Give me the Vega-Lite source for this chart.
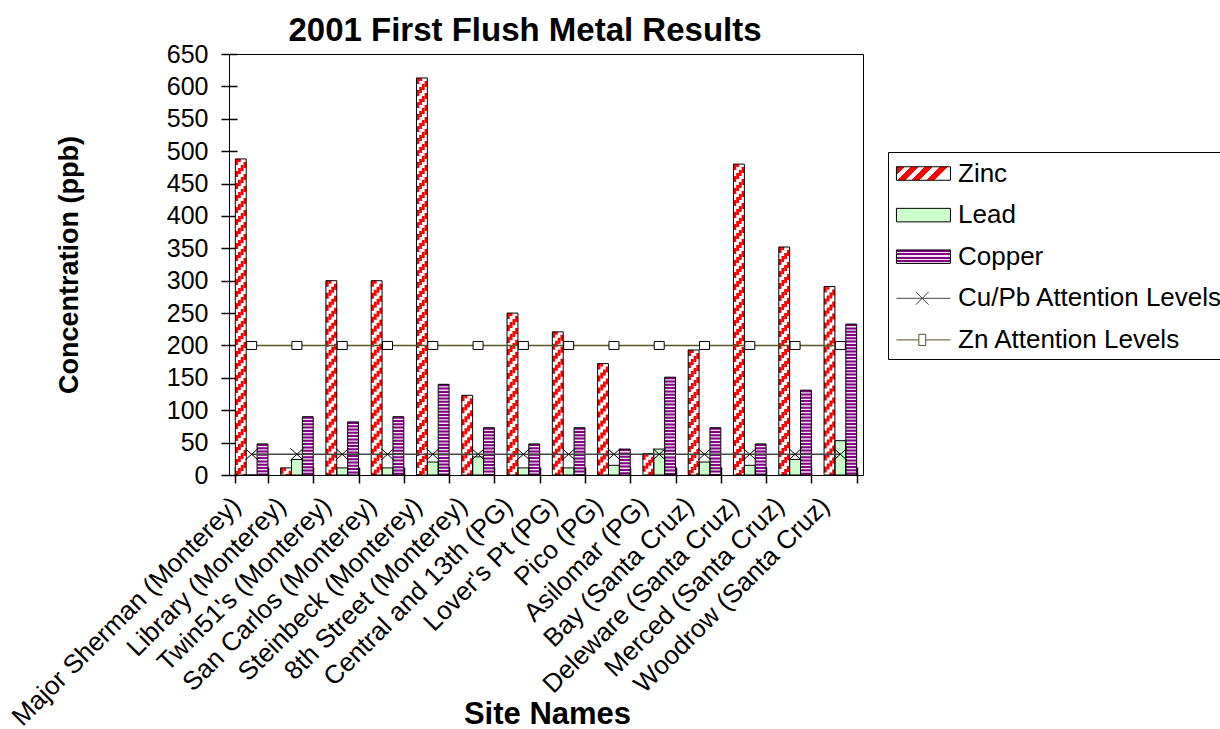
{
  "$schema": "https://vega.github.io/schema/vega-lite/v6.json",
  "width": 634,
  "height": 421,
  "autosize": {"type": "none"},
  "padding": {"left": 229, "top": 54, "right": 357, "bottom": 254},
  "background": "white",
  "config": {"view": {"stroke": "#000", "strokeWidth": 1}, "font": "Liberation Sans", "axis": {"labelOverlap": false}, "axisY": {"labelOverlap": false, "labelFlush": false}},
  "title": {"text": "2001 First Flush Metal Results", "fontSize": 33, "fontWeight": "bold", "font": "Liberation Sans", "color": "#000", "anchor": "middle", "dx": -21, "dy": 43, "offset": 11, "baseline": "alphabetic"},
  "datasets": {
    "metals": [
      {"site": "Major Sherman (Monterey)", "metal": "Zinc", "value": 488},
      {"site": "Major Sherman (Monterey)", "metal": "Lead", "value": 0},
      {"site": "Major Sherman (Monterey)", "metal": "Copper", "value": 48},
      {"site": "Library (Monterey)", "metal": "Zinc", "value": 11},
      {"site": "Library (Monterey)", "metal": "Lead", "value": 24},
      {"site": "Library (Monterey)", "metal": "Copper", "value": 90},
      {"site": "Twin51's (Monterey)", "metal": "Zinc", "value": 300},
      {"site": "Twin51's (Monterey)", "metal": "Lead", "value": 11},
      {"site": "Twin51's (Monterey)", "metal": "Copper", "value": 82},
      {"site": "San Carlos (Monterey)", "metal": "Zinc", "value": 300},
      {"site": "San Carlos (Monterey)", "metal": "Lead", "value": 11},
      {"site": "San Carlos (Monterey)", "metal": "Copper", "value": 90},
      {"site": "Steinbeck (Monterey)", "metal": "Zinc", "value": 613},
      {"site": "Steinbeck (Monterey)", "metal": "Lead", "value": 20},
      {"site": "Steinbeck (Monterey)", "metal": "Copper", "value": 140},
      {"site": "8th Street (Monterey)", "metal": "Zinc", "value": 123},
      {"site": "8th Street (Monterey)", "metal": "Lead", "value": 28},
      {"site": "8th Street (Monterey)", "metal": "Copper", "value": 73},
      {"site": "Central and 13th (PG)", "metal": "Zinc", "value": 250},
      {"site": "Central and 13th (PG)", "metal": "Lead", "value": 11},
      {"site": "Central and 13th (PG)", "metal": "Copper", "value": 48},
      {"site": "Lover's Pt (PG)", "metal": "Zinc", "value": 221},
      {"site": "Lover's Pt (PG)", "metal": "Lead", "value": 11},
      {"site": "Lover's Pt (PG)", "metal": "Copper", "value": 73},
      {"site": "Pico (PG)", "metal": "Zinc", "value": 172},
      {"site": "Pico (PG)", "metal": "Lead", "value": 15},
      {"site": "Pico (PG)", "metal": "Copper", "value": 40},
      {"site": "Asilomar (PG)", "metal": "Zinc", "value": 33},
      {"site": "Asilomar (PG)", "metal": "Lead", "value": 40},
      {"site": "Asilomar (PG)", "metal": "Copper", "value": 151},
      {"site": "Bay (Santa Cruz)", "metal": "Zinc", "value": 193},
      {"site": "Bay (Santa Cruz)", "metal": "Lead", "value": 20},
      {"site": "Bay (Santa Cruz)", "metal": "Copper", "value": 73},
      {"site": "Deleware (Santa Cruz)", "metal": "Zinc", "value": 480},
      {"site": "Deleware (Santa Cruz)", "metal": "Lead", "value": 15},
      {"site": "Deleware (Santa Cruz)", "metal": "Copper", "value": 48},
      {"site": "Merced (Santa Cruz)", "metal": "Zinc", "value": 352},
      {"site": "Merced (Santa Cruz)", "metal": "Lead", "value": 24},
      {"site": "Merced (Santa Cruz)", "metal": "Copper", "value": 131},
      {"site": "Woodrow (Santa Cruz)", "metal": "Zinc", "value": 291},
      {"site": "Woodrow (Santa Cruz)", "metal": "Lead", "value": 53},
      {"site": "Woodrow (Santa Cruz)", "metal": "Copper", "value": 233}
    ],
    "levels": [
      {"site": "Major Sherman (Monterey)", "level": "Cu/Pb Attention Levels", "value": 32},
      {"site": "Library (Monterey)", "level": "Cu/Pb Attention Levels", "value": 32},
      {"site": "Twin51's (Monterey)", "level": "Cu/Pb Attention Levels", "value": 32},
      {"site": "San Carlos (Monterey)", "level": "Cu/Pb Attention Levels", "value": 32},
      {"site": "Steinbeck (Monterey)", "level": "Cu/Pb Attention Levels", "value": 32},
      {"site": "8th Street (Monterey)", "level": "Cu/Pb Attention Levels", "value": 32},
      {"site": "Central and 13th (PG)", "level": "Cu/Pb Attention Levels", "value": 32},
      {"site": "Lover's Pt (PG)", "level": "Cu/Pb Attention Levels", "value": 32},
      {"site": "Pico (PG)", "level": "Cu/Pb Attention Levels", "value": 32},
      {"site": "Asilomar (PG)", "level": "Cu/Pb Attention Levels", "value": 32},
      {"site": "Bay (Santa Cruz)", "level": "Cu/Pb Attention Levels", "value": 32},
      {"site": "Deleware (Santa Cruz)", "level": "Cu/Pb Attention Levels", "value": 32},
      {"site": "Merced (Santa Cruz)", "level": "Cu/Pb Attention Levels", "value": 32},
      {"site": "Woodrow (Santa Cruz)", "level": "Cu/Pb Attention Levels", "value": 32},
      {"site": "Major Sherman (Monterey)", "level": "Zn Attention Levels", "value": 200},
      {"site": "Library (Monterey)", "level": "Zn Attention Levels", "value": 200},
      {"site": "Twin51's (Monterey)", "level": "Zn Attention Levels", "value": 200},
      {"site": "San Carlos (Monterey)", "level": "Zn Attention Levels", "value": 200},
      {"site": "Steinbeck (Monterey)", "level": "Zn Attention Levels", "value": 200},
      {"site": "8th Street (Monterey)", "level": "Zn Attention Levels", "value": 200},
      {"site": "Central and 13th (PG)", "level": "Zn Attention Levels", "value": 200},
      {"site": "Lover's Pt (PG)", "level": "Zn Attention Levels", "value": 200},
      {"site": "Pico (PG)", "level": "Zn Attention Levels", "value": 200},
      {"site": "Asilomar (PG)", "level": "Zn Attention Levels", "value": 200},
      {"site": "Bay (Santa Cruz)", "level": "Zn Attention Levels", "value": 200},
      {"site": "Deleware (Santa Cruz)", "level": "Zn Attention Levels", "value": 200},
      {"site": "Merced (Santa Cruz)", "level": "Zn Attention Levels", "value": 200},
      {"site": "Woodrow (Santa Cruz)", "level": "Zn Attention Levels", "value": 200}
    ]
  },
  "encoding": {
    "x": {
      "field": "site", "type": "nominal", "sort": null,
      "scale": {"paddingInner": 0.28, "paddingOuter": 0.14},
      "axis": {
        "title": "Site Names", "titleFontSize": 31, "titleFontWeight": "bold", "titleFont": "Liberation Sans", "titleColor": "#000",
        "titleBaseline": "alphabetic", "titleAlign": "center", "titleX": 318, "titleY": 256,
        "labelAngle": -45, "labelAlign": "right", "labelBaseline": "alphabetic", "labelFontSize": 26, "labelFont": "Liberation Sans",
        "labelColor": "#000", "labelPadding": 24, "labelOffset": -10, "labelLimit": 500, "labelOverlap": false, "labelBound": false,
        "tickBand": "extent", "tickSize": 16, "offset": -8, "domain": false, "tickColor": "#000", "tickWidth": 1.5
      }
    },
    "y": {
      "field": "value", "type": "quantitative",
      "scale": {"domain": [0, 650], "nice": false, "zero": true},
      "axis": {
        "title": "Concentration (ppb)", "titleFontSize": 27, "titleFontWeight": "bold", "titleFont": "Liberation Sans", "titleColor": "#000",
        "titleAngle": -90, "titleX": -168, "titleY": 210.5, "titleAlign": "center", "titleBaseline": "middle",
        "values": [0, 50, 100, 150, 200, 250, 300, 350, 400, 450, 500, 550, 600, 650],
        "labelFontSize": 25, "labelFont": "Liberation Sans", "labelColor": "#000", "labelPadding": 13, "labelOverlap": false, "labelFlush": false, "labelSeparation": 0,
        "tickSize": 16, "offset": -8, "domain": false, "grid": false, "tickColor": "#000", "tickWidth": 1.5
      }
    }
  },
  "layer": [
    {
      "data": {"name": "metals"},
      "mark": {"type": "bar", "strokeWidth": 0},
      "encoding": {
        "xOffset": {"field": "metal", "type": "nominal", "sort": ["Zinc", "Lead", "Copper"], "scale": {"domain": ["Zinc", "Lead", "Copper"], "paddingInner": 0, "paddingOuter": 0}},
        "fill": {
          "field": "metal", "type": "nominal",
          "scale": {"domain": ["Zinc", "Lead", "Copper"], "range": ["#ffffff", "#ccffcc", "#f2e4f4"]},
          "legend": null
        }
      }
    },
    {
      "data": {"name": "metals"},
      "transform": [{"filter": "datum.metal === 'Zinc'"}],
      "mark": {"type": "rule", "stroke": "#ff0000", "strokeWidth": 2.8, "strokeDash": [6, 6], "strokeDashOffset": 0},
      "encoding": {
        "x": {"field": "site", "type": "nominal", "sort": null, "bandPosition": 0.0417},
        "y2": {"datum": 0}
      }
    },
    {
      "data": {"name": "metals"},
      "transform": [{"filter": "datum.metal === 'Zinc'"}],
      "mark": {"type": "rule", "stroke": "#ff0000", "strokeWidth": 2.8, "strokeDash": [6, 6], "strokeDashOffset": 3},
      "encoding": {
        "x": {"field": "site", "type": "nominal", "sort": null, "bandPosition": 0.125},
        "y2": {"datum": 0}
      }
    },
    {
      "data": {"name": "metals"},
      "transform": [{"filter": "datum.metal === 'Zinc'"}],
      "mark": {"type": "rule", "stroke": "#ff0000", "strokeWidth": 2.8, "strokeDash": [6, 6], "strokeDashOffset": 6},
      "encoding": {
        "x": {"field": "site", "type": "nominal", "sort": null, "bandPosition": 0.2083},
        "y2": {"datum": 0}
      }
    },
    {
      "data": {"name": "metals"},
      "transform": [{"filter": "datum.metal === 'Zinc'"}],
      "mark": {"type": "rule", "stroke": "#ff0000", "strokeWidth": 2.8, "strokeDash": [6, 6], "strokeDashOffset": 9},
      "encoding": {
        "x": {"field": "site", "type": "nominal", "sort": null, "bandPosition": 0.2917},
        "y2": {"datum": 0}
      }
    },
    {
      "data": {"name": "metals"},
      "transform": [{"filter": "datum.metal === 'Copper'"}],
      "mark": {"type": "rule", "stroke": "#800080", "strokeWidth": 10.5, "strokeDash": [2, 1.3]},
      "encoding": {
        "xOffset": {"field": "metal", "type": "nominal"},
        "y2": {"datum": 0}
      }
    },
    {
      "data": {"name": "metals"},
      "mark": {"type": "bar", "fill": "transparent", "stroke": "#000", "strokeWidth": 1},
      "encoding": {
        "xOffset": {"field": "metal", "type": "nominal"}
      }
    },
    {
      "data": {"name": "levels"},
      "mark": {"type": "line", "strokeWidth": 1.5},
      "encoding": {
        "stroke": {
          "field": "level", "type": "nominal",
          "scale": {"domain": ["Zinc", "Lead", "Copper", "Cu/Pb Attention Levels", "Zn Attention Levels"], "range": ["#000000", "#000000", "#000000", "#444444", "#555522"]},
          "legend": {
            "orient": "none", "legendX": 659, "legendY": 98, "title": null, "padding": 6,
            "strokeColor": "#000", "fillColor": "#ffffff",
            "labelFontSize": 26, "labelFont": "Liberation Sans", "labelColor": "#000", "labelLimit": 500, "labelOffset": 33,
            "symbolSize": 900, "rowPadding": 12.6, "symbolStrokeWidth": 1,
            "encode": {
              "symbols": {
                "update": {
                  "shape": {"signal": "datum.value === 'Cu/Pb Attention Levels' ? 'M-0.87,0H2.73M0.42,-0.43L1.28,0.43M0.42,0.43L1.28,-0.43' : datum.value === 'Zn Attention Levels' ? 'M-0.87,0H0.62M1.08,0H2.73M0.62,-0.37H1.08V0.37H0.62Z' : 'M-0.87,-0.45H2.73V0.45H-0.87Z'"},
                  "fill": {"signal": "datum.value === 'Zinc' ? {gradient: 'linear', x1: 0, y1: 0, x2: 1, y2: 0.25, stops: [{offset: 0, color: '#ff0000'}, {offset: 0.14, color: '#ff0000'}, {offset: 0.14, color: '#ffffff'}, {offset: 0.25, color: '#ffffff'}, {offset: 0.25, color: '#ff0000'}, {offset: 0.39, color: '#ff0000'}, {offset: 0.39, color: '#ffffff'}, {offset: 0.5, color: '#ffffff'}, {offset: 0.5, color: '#ff0000'}, {offset: 0.64, color: '#ff0000'}, {offset: 0.64, color: '#ffffff'}, {offset: 0.75, color: '#ffffff'}, {offset: 0.75, color: '#ff0000'}, {offset: 0.89, color: '#ff0000'}, {offset: 0.89, color: '#ffffff'}, {offset: 1, color: '#ffffff'}]} : datum.value === 'Lead' ? '#ccffcc' : datum.value === 'Copper' ? {gradient: 'linear', x1: 0, y1: 0, x2: 0, y2: 1, stops: [{offset: 0, color: '#800080'}, {offset: 0.15, color: '#800080'}, {offset: 0.15, color: '#f4e8f6'}, {offset: 0.25, color: '#f4e8f6'}, {offset: 0.25, color: '#800080'}, {offset: 0.4, color: '#800080'}, {offset: 0.4, color: '#f4e8f6'}, {offset: 0.5, color: '#f4e8f6'}, {offset: 0.5, color: '#800080'}, {offset: 0.65, color: '#800080'}, {offset: 0.65, color: '#f4e8f6'}, {offset: 0.75, color: '#f4e8f6'}, {offset: 0.75, color: '#800080'}, {offset: 0.9, color: '#800080'}, {offset: 0.9, color: '#f4e8f6'}, {offset: 1, color: '#f4e8f6'}]} : datum.value === 'Zn Attention Levels' ? '#ffffff' : 'transparent'"},
                  "strokeWidth": {"value": 1},
                  "opacity": {"value": 1}
                }
              }
            }
          }
        }
      }
    },
    {
      "data": {"name": "levels"},
      "transform": [{"filter": "datum.level === 'Zn Attention Levels'"}],
      "mark": {"type": "point", "shape": "M-1,-0.8H1V0.8H-1Z", "size": 100, "filled": true, "fill": "#ffffff", "stroke": "#000", "strokeWidth": 1, "opacity": 1}
    },
    {
      "data": {"name": "levels"},
      "transform": [{"filter": "datum.level === 'Cu/Pb Attention Levels'"}],
      "mark": {"type": "point", "shape": "M-1,-0.9L1,0.9M-1,0.9L1,-0.9", "size": 169, "filled": false, "stroke": "#000", "strokeWidth": 1, "opacity": 1}
    }
  ]
}
